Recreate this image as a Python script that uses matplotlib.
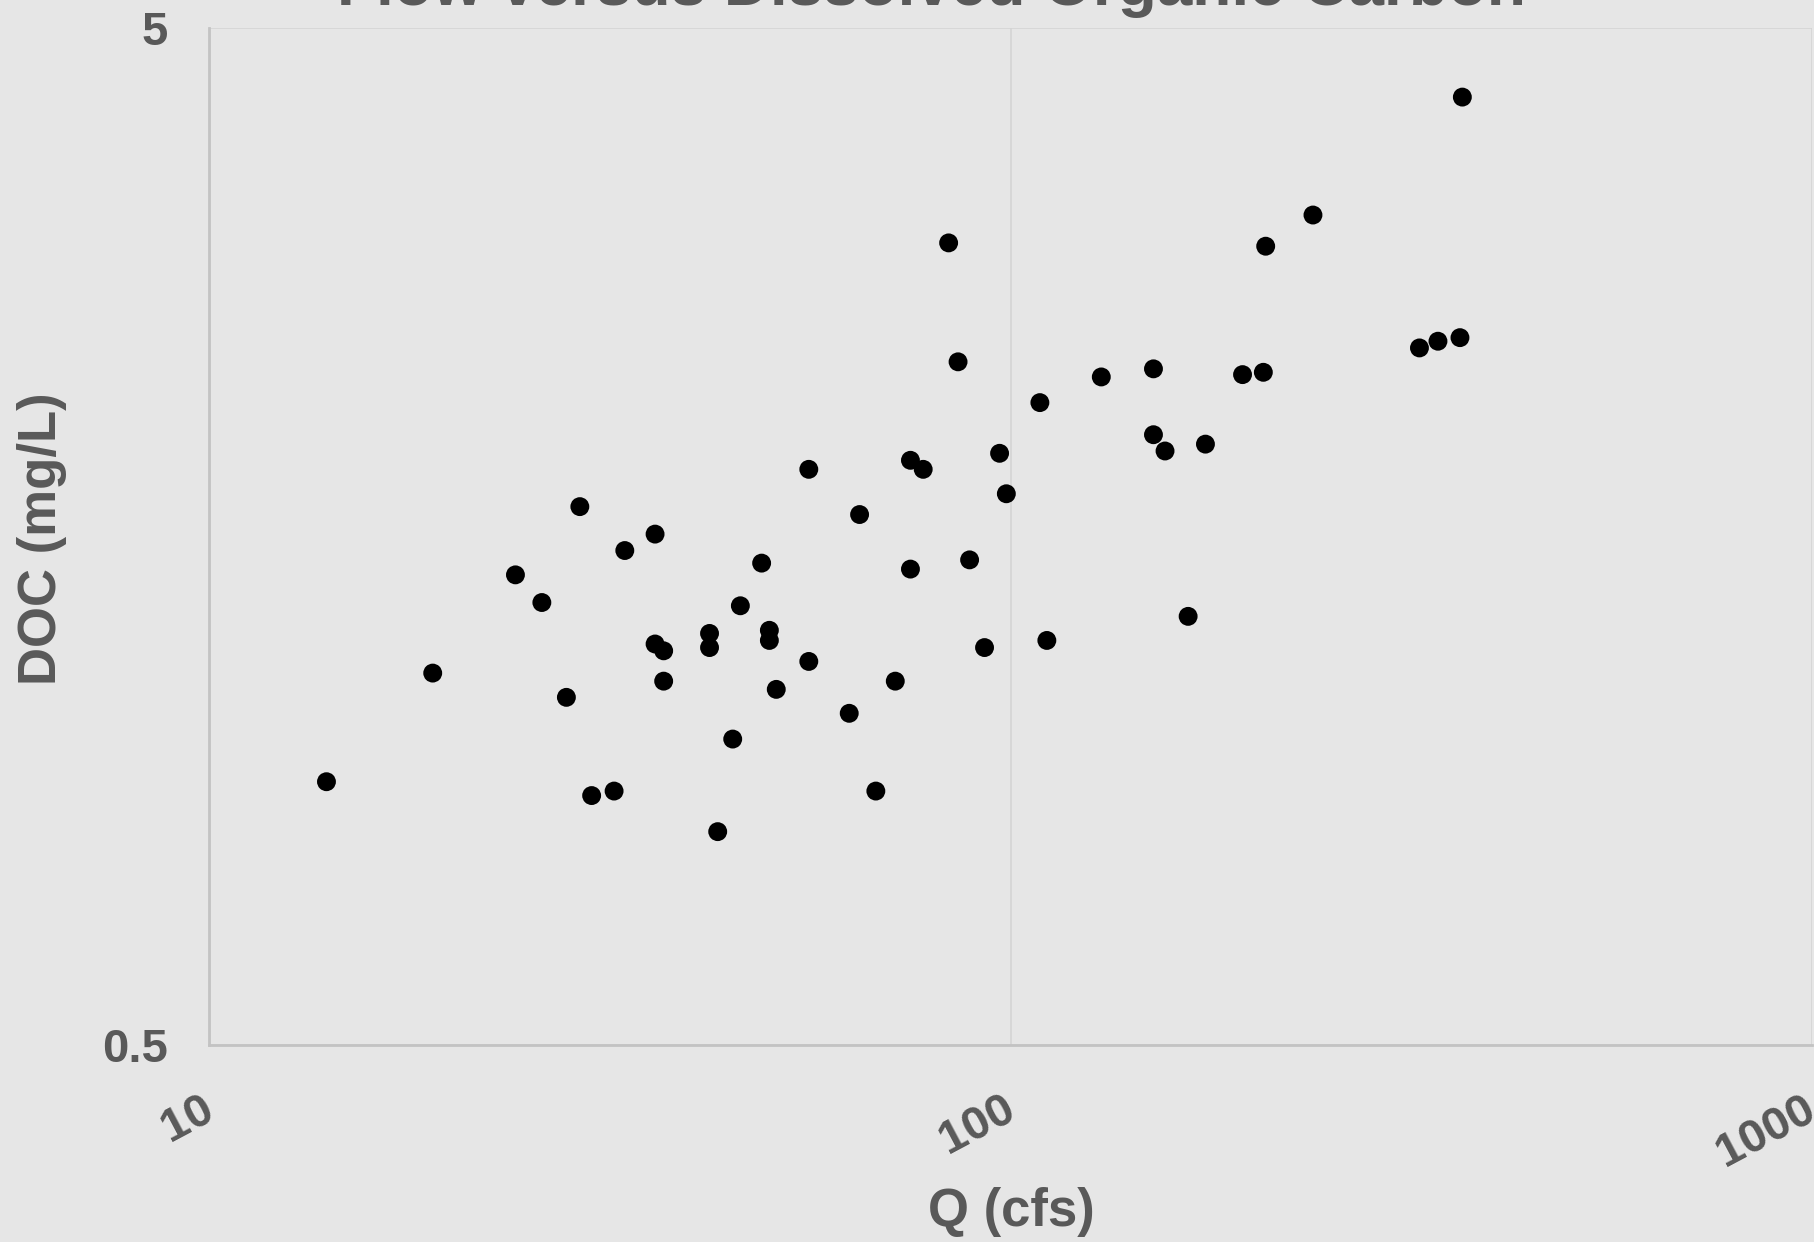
import matplotlib
matplotlib.use("Agg")
import matplotlib.pyplot as plt
import matplotlib.transforms as mtransforms
from matplotlib.ticker import FixedLocator, NullLocator, FixedFormatter

# Data
flow_cfs = [14.0, 19.0, 24.1, 26.0, 27.9, 29.0, 30.0, 32.0, 33.0, 36.0,
            36.0, 36.9, 36.9, 42.1, 42.1, 43.1, 45.0, 46.0, 48.9, 50.0,
            50.0, 51.0, 56.0, 56.0, 62.9, 64.8, 67.9, 71.8, 75.0, 75.0,
            77.8, 83.7, 86.0, 88.9, 92.8, 96.9, 98.8, 108.8, 111.0, 129.8,
            150.8, 150.8, 155.9, 166.6, 175.1, 194.8, 206.8, 208.2, 238.5, 323.9,
            341.6, 363.9, 366.4]
doc_mgl = [0.908, 1.161, 1.450, 1.362, 1.099, 1.692, 0.880, 0.889, 1.532, 1.590,
           1.240, 1.221, 1.140, 1.270, 1.230, 0.811, 1.000, 1.352, 1.489, 1.279,
           1.250, 1.119, 1.841, 1.192, 1.060, 1.662, 0.889, 1.140, 1.879, 1.469,
           1.841, 3.073, 2.348, 1.500, 1.230, 1.909, 1.742, 2.141, 1.250, 2.269,
           2.311, 1.991, 1.919, 1.320, 1.949, 2.281, 2.293, 3.050, 3.273, 2.423,
           2.460, 2.480, 4.274]

x_ticks = [10, 100, 1000]
x_tick_labels = ["10", "100", "1000"]
y_ticks = [0.5, 5]
y_tick_labels = ["0.5", "5"]

title = "Flow versus Dissolved Organic Carbon"
x_label = "Q (cfs)"
y_label = "DOC (mg/L)"

plt.rcParams['font.family'] = ['Liberation Sans', 'DejaVu Sans']

BG = "#e6e6e6"
TXT = "#595959"

fig = plt.figure(figsize=(18.14, 12.42), dpi=100, facecolor=BG)
ax = fig.add_axes([181/1568, 1 - 904/1074, (1566-181)/1568, (904-24)/1074])
ax.set_facecolor(BG)

ax.scatter(flow_cfs, doc_mgl, s=185, c="black", edgecolors="none", zorder=3)

ax.set_xscale("log")
ax.set_yscale("log")
ax.set_xlim(10, 1000)
ax.set_ylim(0.5, 5)

ax.xaxis.set_major_locator(FixedLocator(x_ticks))
ax.xaxis.set_major_formatter(FixedFormatter(x_tick_labels))
ax.xaxis.set_minor_locator(NullLocator())
ax.yaxis.set_major_locator(FixedLocator(y_ticks))
ax.yaxis.set_major_formatter(FixedFormatter(y_tick_labels))
ax.yaxis.set_minor_locator(NullLocator())

ax.grid(True, which="major", color="#d4d4d4", linewidth=1.2, zorder=0)
ax.set_axisbelow(True)

for side in ["top", "right"]:
    ax.spines[side].set_visible(False)
for side in ["left", "bottom"]:
    ax.spines[side].set_color("#c3c3c3")
    ax.spines[side].set_linewidth(2)

ax.tick_params(axis="both", length=0, pad=30, colors=TXT, labelsize=34)
offset = mtransforms.ScaledTranslation(-9/100, 0, fig.dpi_scale_trans)
for lbl in ax.get_xticklabels():
    lbl.set_fontweight("bold")
    lbl.set_rotation(28)
    lbl.set_ha("right")
    lbl.set_va("top")
    lbl.set_rotation_mode("anchor")
    lbl.set_transform(lbl.get_transform() + offset)
for lbl in ax.get_yticklabels():
    lbl.set_fontweight("bold")

fig.text(805/1568, 1 - 5/1242, title, ha="center", va="baseline",
         fontsize=46, fontweight="bold", color=TXT)
fig.text(874/1568, 1 - 1048/1074, x_label, ha="center", va="center",
         fontsize=38, fontweight="bold", color=TXT)
fig.text(36/1568, 1 - 466/1074, y_label, ha="center", va="center", rotation=90,
         fontsize=38, fontweight="bold", color=TXT)

fig.savefig("out.png", dpi=100, facecolor=BG)
